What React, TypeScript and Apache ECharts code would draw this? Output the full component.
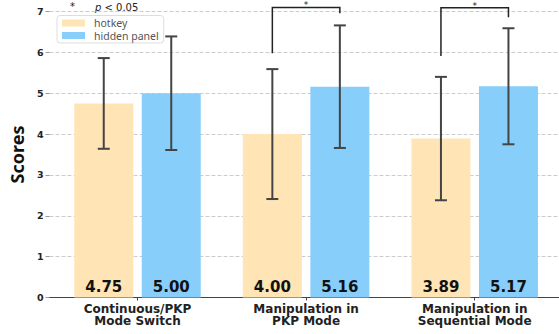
import React, { useEffect, useRef } from "react";
import * as echarts from "echarts";

const categories = ["Continuous/PKP\nMode Switch", "Manipulation in\nPKP Mode", "Manipulation in\nSequential Mode"];
const seriesNames = ["hotkey", "hidden panel"];
const hotkeyMeans = [4.75, 4.0, 3.89];
const hiddenMeans = [5.0, 5.16, 5.17];
const hotkeySD = [1.11, 1.59, 1.51];
const hiddenSD = [1.39, 1.5, 1.42];
const valueLabels = [["4.75", "4.00", "3.89"], ["5.00", "5.16", "5.17"]];
const yMin = 0;
const yMax = 7;
const yInterval = 1;
// significance brackets: category, top of bracket, end of left leg, end of right leg
const sigCategories = [1, 2];
const sigTops = [7.1, 7.09];
const sigLeftEnds = [5.98, 5.91];
const sigRightEnds = [6.96, 6.86];
const sigMark = "*";

const FONT = "'DejaVu Sans', 'Noto Sans', sans-serif";
const NOTO = "'Noto Sans', 'DejaVu Sans', sans-serif";
const BAR_W = 59;
const BAR_GAP = 8.5;
const OFFSET = (BAR_W + BAR_GAP) / 2;
const COLORS = ["#FFE4B5", "#87CEFA"];

export default function App() {
  const ref = useRef<HTMLDivElement>(null);
  useEffect(() => {
    const chart = echarts.init(ref.current!, null, { renderer: "svg" });
    const errData = (means: number[], sds: number[]) => means.map((m, i) => [i, m, sds[i]]);
    const errSeries = (name: string, means: number[], sds: number[], dir: number) => ({
      type: "custom",
      name: name + "-err",
      xAxisIndex: 1,
      yAxisIndex: 1,
      z: 5,
      clip: false,
      data: errData(means, sds),
      encode: { x: 0, y: 1 },
      renderItem: (params: any, api: any) => {
        const i = api.value(0);
        const m = api.value(1);
        const s = api.value(2);
        const top = api.coord([i, m + s]);
        const bot = api.coord([i, m - s]);
        const x = top[0] + dir * OFFSET;
        const st = { stroke: "#444", lineWidth: 2 };
        return {
          type: "group",
          children: [
            { type: "line", shape: { x1: x, y1: top[1], x2: x, y2: bot[1] }, style: st },
            { type: "line", shape: { x1: x - 6, y1: top[1], x2: x + 6, y2: top[1] }, style: st },
            { type: "line", shape: { x1: x - 6, y1: bot[1], x2: x + 6, y2: bot[1] }, style: st },
          ],
        };
      },
    });
    const sigData = sigCategories.map((c, k) => [c, sigTops[k], sigLeftEnds[k], sigRightEnds[k]]);

    chart.setOption({
      animation: false,
      textStyle: { fontFamily: FONT },
      legend: {
        data: seriesNames,
        left: 57,
        top: 15.5,
        orient: "vertical",
        icon: "rect",
        itemWidth: 23,
        itemHeight: 7,
        itemGap: 1.5,
        padding: [2, 5, 2, 5],
        borderColor: "#ddd",
        borderWidth: 1,
        borderRadius: 3,
        backgroundColor: "rgba(255,255,255,0.85)",
        textStyle: { fontFamily: NOTO, fontSize: 10.5, color: "#555", padding: [0, 0, 0, 4] },
      },
      graphic: [
        {
          type: "text",
          left: 70,
          top: 1,
          style: { text: "*", fontFamily: FONT, fontSize: 10, fill: "#222" },
        },
        {
          type: "text",
          left: 95,
          top: 2,
          style: {
            text: "{i|p} < 0.05",
            fontFamily: FONT,
            fontSize: 10,
            fill: "#222",
            rich: { i: { fontStyle: "italic", fontFamily: FONT, fontSize: 10, fill: "#222" } },
          },
        },
      ],
      grid: [
        { left: 47, right: 0, top: 11.5, bottom: 36.5 },
        { left: 53.2, right: -1.2, top: 11.5, bottom: 36.5 },
      ],
      xAxis: [
        {
          type: "value",
          gridIndex: 0,
          min: 0,
          max: 1,
          axisLine: { show: true, onZero: false, lineStyle: { color: "#444", width: 1 } },
          axisTick: { show: false },
          axisLabel: { show: false },
          splitLine: { show: false },
        },
        {
          type: "category",
          gridIndex: 1,
          data: categories,
          axisLine: { show: false },
          axisTick: { show: true, alignWithLabel: true, length: 3, lineStyle: { color: "#444" } },
          axisLabel: {
            fontFamily: FONT,
            fontSize: 12,
            fontWeight: "bold",
            color: "#222",
            lineHeight: 12.5,
            margin: 5,
            interval: 0,
          },
        },
      ],
      yAxis: [
        {
          type: "value",
          gridIndex: 0,
          min: yMin,
          max: yMax,
          interval: yInterval,
          name: "Scores",
          nameLocation: "middle",
          nameGap: 20,
          nameTextStyle: { fontFamily: NOTO, fontSize: 18, fontWeight: "bold", color: "#111" },
          axisLine: { show: false },
          axisTick: { show: true, length: 4, lineStyle: { color: "#999" } },
          axisLabel: { fontFamily: FONT, fontSize: 9.5, fontWeight: "bold", color: "#222", margin: 6 },
          splitLine: { show: true, lineStyle: { type: [4, 2], color: "#ccc", width: 1 } },
        },
        {
          type: "value",
          gridIndex: 1,
          min: yMin,
          max: yMax,
          interval: yInterval,
          show: false,
          splitLine: { show: false },
        },
      ],
      series: [
        {
          type: "bar",
          name: seriesNames[0],
          xAxisIndex: 1,
          yAxisIndex: 1,
          data: hotkeyMeans,
          barWidth: BAR_W,
          barGap: (BAR_GAP / BAR_W) * 100 + "%",
          itemStyle: { color: COLORS[0] },
          label: {
            show: true,
            position: "insideBottom",
            distance: 3,
            formatter: (p: any) => valueLabels[0][p.dataIndex],
            fontFamily: FONT,
            fontSize: 15,
            fontWeight: "bold",
            color: "#111",
          },
        },
        {
          type: "bar",
          name: seriesNames[1],
          xAxisIndex: 1,
          yAxisIndex: 1,
          data: hiddenMeans,
          barWidth: BAR_W,
          barGap: (BAR_GAP / BAR_W) * 100 + "%",
          itemStyle: { color: COLORS[1] },
          label: {
            show: true,
            position: "insideBottom",
            distance: 3,
            formatter: (p: any) => valueLabels[1][p.dataIndex],
            fontFamily: FONT,
            fontSize: 15,
            fontWeight: "bold",
            color: "#111",
          },
        },
        errSeries(seriesNames[0], hotkeyMeans, hotkeySD, -1),
        errSeries(seriesNames[1], hiddenMeans, hiddenSD, 1),
        {
          type: "custom",
          name: "sig",
          xAxisIndex: 1,
          yAxisIndex: 1,
          z: 6,
          clip: false,
          data: sigData,
          encode: { x: 0, y: 1 },
          renderItem: (params: any, api: any) => {
            const c = api.value(0);
            const t = api.coord([c, api.value(1)]);
            const l = api.coord([c, api.value(2)]);
            const r = api.coord([c, api.value(3)]);
            const xl = t[0] - OFFSET;
            const xr = t[0] + OFFSET;
            return {
              type: "group",
              children: [
                {
                  type: "polyline",
                  shape: { points: [[xl, l[1]], [xl, t[1]], [xr, t[1]], [xr, r[1]]] },
                  style: { stroke: "#222", lineWidth: 1.5, fill: null },
                },
                {
                  type: "text",
                  x: t[0],
                  y: t[1] - 6.5,
                  style: {
                    text: sigMark,
                    fontFamily: FONT,
                    fontSize: 9,
                    fill: "#222",
                    align: "center",
                    verticalAlign: "top",
                  },
                },
              ],
            };
          },
        },
      ],
    });
    return () => chart.dispose();
  }, []);
  return <div ref={ref} style={{ position: "absolute", left: 0, top: 0, width: 559, height: 334 }} />;
}
